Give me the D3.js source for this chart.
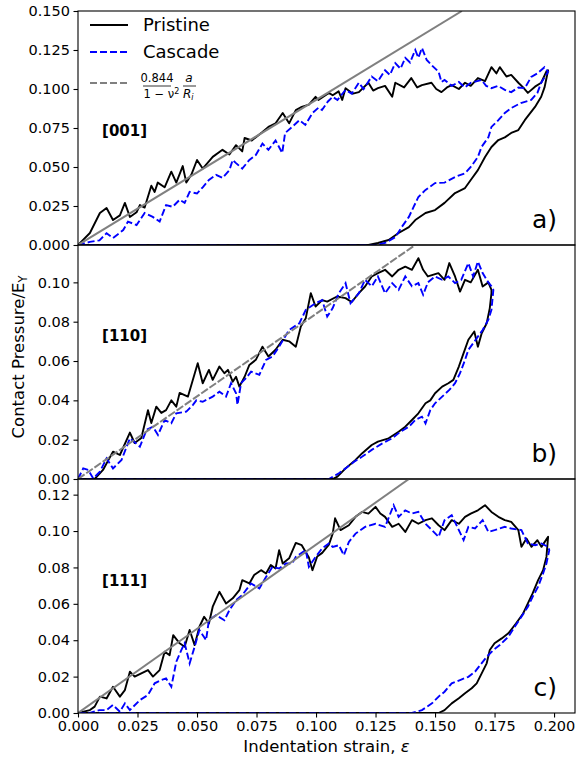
<!DOCTYPE html>
<html lang="en">
<head>
<meta charset="UTF-8">
<title>Contact pressure vs indentation strain</title>
<script src="https://cdn.jsdelivr.net/npm/d3@7/dist/d3.min.js"></script>
<style>
  body { margin: 0; background: #fff; }
  svg text { font-family: "DejaVu Sans", sans-serif; fill: #000; }
</style>
</head>
<body>
<svg id="chart" width="577" height="761"></svg>
<script>
// ---- data: [strain, pressure / E_Y] ----
var xTicks = [0, 0.025, 0.05, 0.075, 0.1, 0.125, 0.15, 0.175, 0.2];
var orientations = ['[001]', '[110]', '[111]'];
var panelTags = ['a)', 'b)', 'c)'];
var yMax = [0.150, 0.119, 0.1286];
var yTicks = [
  [0, 0.025, 0.05, 0.075, 0.1, 0.125, 0.15],
  [0, 0.02, 0.04, 0.06, 0.08, 0.1],
  [0, 0.02, 0.04, 0.06, 0.08, 0.1, 0.12]
];
var yFormat = ['.3f', '.2f', '.2f'];
var fitSlopes = [0.93, 0.84, 0.925];

var pristine001Load = [[0,0],[0.005,0.0077],[0.0092,0.0205],[0.012,0.0237],[0.0147,0.016],[0.0176,0.019],[0.0197,0.027],[0.0218,0.018],[0.0246,0.021],[0.026,0.0256],[0.028,0.024],[0.0308,0.038],[0.0322,0.034],[0.0335,0.040],[0.0364,0.037],[0.0392,0.047],[0.0413,0.040],[0.044,0.0506],[0.0455,0.040],[0.0476,0.045],[0.050,0.0545],[0.0524,0.049],[0.0566,0.0565],[0.0607,0.061],[0.0636,0.058],[0.0664,0.064],[0.069,0.060],[0.070,0.0686],[0.073,0.067],[0.0775,0.0725],[0.080,0.0757],[0.083,0.078],[0.086,0.0846],[0.0887,0.078],[0.0915,0.0865],[0.094,0.0885],[0.097,0.090],[0.0998,0.095],[0.101,0.093],[0.1054,0.0975],[0.107,0.096],[0.1095,0.0985],[0.111,0.093],[0.1124,0.1005],[0.1155,0.097],[0.118,0.098],[0.122,0.104],[0.124,0.099],[0.126,0.1005],[0.129,0.102],[0.132,0.095],[0.1333,0.104],[0.137,0.101],[0.140,0.107],[0.1425,0.101],[0.1445,0.1025],[0.1485,0.104],[0.1505,0.1],[0.1527,0.098],[0.155,0.101],[0.157,0.1025],[0.16,0.1],[0.1626,0.104],[0.165,0.102],[0.168,0.107],[0.171,0.105],[0.1737,0.114],[0.1758,0.110],[0.1772,0.114],[0.18,0.108],[0.182,0.109],[0.185,0.104],[0.187,0.101],[0.189,0.0975],[0.192,0.1015],[0.1946,0.104],[0.1967,0.111],[0.1975,0.112]];
var pristine001Unload = [[0.1975,0.112],[0.196,0.101],[0.1946,0.095],[0.192,0.0885],[0.1877,0.080],[0.185,0.0737],[0.182,0.0718],[0.1793,0.069],[0.1766,0.0673],[0.1737,0.0628],[0.171,0.0564],[0.168,0.048],[0.165,0.0417],[0.1626,0.0365],[0.1584,0.0333],[0.154,0.027],[0.150,0.0224],[0.146,0.0205],[0.1417,0.016],[0.139,0.0115],[0.1347,0.0077],[0.1305,0.0032],[0.126,0.0013],[0.122,0],[0,0]];
var cascade001Load = [[0,0],[0.005,0.002],[0.009,0.003],[0.012,0.0075],[0.0147,0.0045],[0.019,0.0096],[0.021,0.015],[0.0246,0.0128],[0.028,0.0205],[0.0314,0.018],[0.0343,0.015],[0.037,0.0256],[0.0398,0.0245],[0.0427,0.029],[0.0448,0.027],[0.0469,0.034],[0.050,0.033],[0.0524,0.037],[0.055,0.0417],[0.058,0.045],[0.0607,0.043],[0.0636,0.048],[0.065,0.0545],[0.0664,0.0525],[0.069,0.049],[0.072,0.0545],[0.0747,0.0577],[0.0775,0.065],[0.080,0.061],[0.083,0.067],[0.0858,0.059],[0.087,0.0718],[0.090,0.0757],[0.093,0.080],[0.0955,0.077],[0.0985,0.0846],[0.101,0.088],[0.1025,0.0865],[0.105,0.092],[0.107,0.095],[0.109,0.093],[0.1124,0.0994],[0.115,0.097],[0.118,0.104],[0.12,0.1],[0.1234,0.108],[0.126,0.105],[0.129,0.112],[0.131,0.109],[0.1333,0.1166],[0.1355,0.113],[0.1375,0.12],[0.1395,0.117],[0.1417,0.125],[0.143,0.12],[0.1445,0.1263],[0.1465,0.1186],[0.1485,0.1154],[0.1515,0.111],[0.1527,0.1045],[0.154,0.1058],[0.157,0.102],[0.16,0.1045],[0.1625,0.101],[0.165,0.104],[0.1695,0.1058],[0.1715,0.102],[0.1737,0.1005],[0.1765,0.102],[0.1793,0.0994],[0.182,0.098],[0.185,0.101],[0.1877,0.1005],[0.1904,0.1077],[0.193,0.110],[0.196,0.114],[0.1975,0.111]];
var cascade001Unload = [[0.1975,0.111],[0.1946,0.104],[0.193,0.0975],[0.1904,0.093],[0.186,0.091],[0.182,0.0878],[0.1793,0.0846],[0.1766,0.080],[0.1737,0.0757],[0.1724,0.069],[0.1695,0.0628],[0.168,0.0564],[0.165,0.050],[0.1626,0.046],[0.1584,0.0436],[0.154,0.040],[0.150,0.0397],[0.146,0.0353],[0.143,0.0308],[0.141,0.0244],[0.139,0.018],[0.136,0.0115],[0.1333,0.005],[0.129,0.0013],[0.125,0],[0,0]];

var pristine110Load = [[0,0],[0.007,0],[0.0105,0.0046],[0.0147,0.0139],[0.0176,0.0122],[0.0218,0.0236],[0.0238,0.0183],[0.0266,0.0209],[0.0294,0.035],[0.0308,0.0285],[0.0329,0.0368],[0.035,0.0336],[0.037,0.035],[0.0392,0.040],[0.0413,0.0368],[0.0427,0.0438],[0.0462,0.0419],[0.0503,0.0589],[0.0524,0.0487],[0.055,0.0555],[0.0566,0.0504],[0.0594,0.0572],[0.0615,0.0538],[0.063,0.0555],[0.065,0.0495],[0.0664,0.052],[0.0678,0.047],[0.070,0.052],[0.072,0.058],[0.0747,0.0606],[0.0775,0.0673],[0.080,0.0623],[0.083,0.0657],[0.086,0.0708],[0.0887,0.070],[0.0915,0.0673],[0.0936,0.0775],[0.0957,0.0818],[0.0978,0.0945],[0.0998,0.0877],[0.1026,0.091],[0.1047,0.0902],[0.1088,0.0928],[0.1124,0.092],[0.115,0.090],[0.118,0.0945],[0.1206,0.0979],[0.1234,0.103],[0.126,0.1047],[0.129,0.1064],[0.132,0.103],[0.1347,0.1064],[0.1375,0.108],[0.1403,0.1064],[0.143,0.1123],[0.145,0.1064],[0.147,0.103],[0.1514,0.1047],[0.154,0.1013],[0.156,0.1098],[0.1584,0.103],[0.1605,0.0953],[0.1626,0.1013],[0.165,0.100],[0.168,0.1064],[0.170,0.0979],[0.1724,0.100],[0.1737,0.0962]];
var pristine110Unload = [[0.1737,0.0962],[0.1737,0.0945],[0.173,0.0869],[0.1717,0.0792],[0.1696,0.0741],[0.168,0.0673],[0.1665,0.075],[0.164,0.0708],[0.162,0.064],[0.16,0.0572],[0.1577,0.0504],[0.1556,0.0487],[0.153,0.047],[0.150,0.0436],[0.148,0.040],[0.146,0.0385],[0.143,0.0334],[0.1403,0.030],[0.1375,0.0266],[0.1347,0.024],[0.1305,0.0207],[0.126,0.019],[0.1234,0.0173],[0.1193,0.013],[0.1166,0.0097],[0.1124,0.0054],[0.109,0.0012],[0.107,0],[0,0]];
var cascade110Load = [[0,0],[0.0022,0.0054],[0.0043,0.0046],[0.0064,0.0003],[0.0092,0.0037],[0.012,0.0105],[0.0147,0.0054],[0.0183,0.0097],[0.0218,0.0207],[0.026,0.0164],[0.0288,0.025],[0.0315,0.0266],[0.0336,0.0224],[0.0364,0.030],[0.0392,0.0284],[0.0413,0.0334],[0.0455,0.0343],[0.0483,0.0377],[0.0497,0.040],[0.0524,0.0393],[0.0566,0.0419],[0.0594,0.0444],[0.0622,0.0419],[0.0643,0.0487],[0.0664,0.0436],[0.067,0.0377],[0.0685,0.0487],[0.0706,0.0513],[0.0727,0.0546],[0.0762,0.053],[0.079,0.0606],[0.0817,0.0623],[0.0845,0.0673],[0.0887,0.0758],[0.093,0.0792],[0.0957,0.086],[0.0998,0.0894],[0.1026,0.091],[0.1047,0.0826],[0.107,0.0869],[0.1096,0.0945],[0.1124,0.0996],[0.1145,0.0894],[0.118,0.0945],[0.1206,0.1013],[0.1234,0.098],[0.126,0.103],[0.129,0.0945],[0.132,0.0996],[0.1347,0.0962],[0.1375,0.103],[0.1403,0.098],[0.143,0.0996],[0.145,0.0937],[0.147,0.100],[0.150,0.103],[0.153,0.1013],[0.1556,0.103],[0.1584,0.0996],[0.161,0.1013],[0.164,0.1098],[0.166,0.103],[0.168,0.1106],[0.170,0.1047],[0.1724,0.100],[0.1737,0.098]];
var cascade110Unload = [[0.1737,0.098],[0.1745,0.0962],[0.1737,0.086],[0.1724,0.081],[0.170,0.0758],[0.168,0.0724],[0.166,0.069],[0.164,0.0657],[0.1626,0.0606],[0.1605,0.0538],[0.1584,0.0487],[0.156,0.0453],[0.153,0.0419],[0.150,0.0385],[0.148,0.035],[0.146,0.0283],[0.1445,0.0317],[0.1417,0.030],[0.139,0.0266],[0.1354,0.024],[0.132,0.0207],[0.1277,0.018],[0.1234,0.0148],[0.1193,0.0113],[0.116,0.0088],[0.1124,0.0054],[0.1096,0.0029],[0.1054,0],[0,0]];

var pristine111Load = [[0,0],[0.005,0.0016],[0.007,0.0035],[0.0092,0.009],[0.012,0.008],[0.0147,0.0144],[0.0176,0.009],[0.0197,0.0126],[0.0218,0.0227],[0.0238,0.020],[0.0266,0.0218],[0.0294,0.0236],[0.0315,0.020],[0.0343,0.0236],[0.0364,0.0337],[0.0385,0.0318],[0.040,0.0428],[0.0427,0.0383],[0.0448,0.0364],[0.0469,0.0456],[0.049,0.0373],[0.051,0.0474],[0.053,0.0529],[0.055,0.0492],[0.0566,0.0584],[0.0594,0.0666],[0.0622,0.0602],[0.065,0.063],[0.0678,0.0675],[0.069,0.073],[0.072,0.0712],[0.074,0.0758],[0.0769,0.0785],[0.079,0.0767],[0.081,0.0813],[0.083,0.0794],[0.0845,0.0895],[0.086,0.0822],[0.0887,0.085],[0.0915,0.0935],[0.094,0.0922],[0.097,0.0855],[0.0985,0.0785],[0.1005,0.086],[0.1026,0.088],[0.1054,0.0925],[0.107,0.0986],[0.108,0.107],[0.1103,0.1005],[0.1138,0.1032],[0.1166,0.1078],[0.1193,0.1105],[0.122,0.1096],[0.125,0.1133],[0.127,0.1096],[0.129,0.1078],[0.132,0.1023],[0.1347,0.104],[0.1375,0.0995],[0.1403,0.106],[0.143,0.104],[0.146,0.106],[0.1487,0.107],[0.1515,0.1032],[0.154,0.1005],[0.157,0.106],[0.16,0.104],[0.1626,0.1078],[0.165,0.1096],[0.168,0.1114],[0.171,0.1142],[0.1737,0.1105],[0.1766,0.1078],[0.1793,0.106],[0.182,0.105],[0.185,0.1005],[0.1863,0.0913],[0.1884,0.0959],[0.1905,0.0913],[0.193,0.095],[0.1947,0.0913],[0.1975,0.0968]];
var pristine111Unload = [[0.1975,0.0968],[0.1968,0.0858],[0.1954,0.0785],[0.1933,0.073],[0.191,0.0657],[0.189,0.0602],[0.187,0.0547],[0.184,0.0492],[0.1808,0.0438],[0.178,0.041],[0.175,0.0383],[0.173,0.0346],[0.1717,0.0273],[0.1696,0.0218],[0.1675,0.0163],[0.1654,0.0136],[0.1626,0.0108],[0.16,0.0081],[0.157,0.0053],[0.154,0.0016],[0.1515,0],[0,0]];
var cascade111Load = [[0,0],[0.005,0],[0.009,0.0016],[0.012,0.0016],[0.0147,0.0044],[0.0176,0.0007],[0.0197,0.0053],[0.0218,0.0016],[0.026,0.0071],[0.0294,0.0099],[0.0322,0.0163],[0.035,0.0181],[0.037,0.019],[0.0392,0.0144],[0.0413,0.0282],[0.0434,0.0346],[0.0448,0.0383],[0.0469,0.0273],[0.049,0.0364],[0.051,0.0456],[0.0538,0.040],[0.055,0.051],[0.058,0.0538],[0.0615,0.051],[0.0636,0.0565],[0.0664,0.062],[0.069,0.0648],[0.0727,0.0712],[0.0762,0.0685],[0.079,0.0748],[0.0817,0.0803],[0.0845,0.0794],[0.0873,0.0822],[0.09,0.0822],[0.0915,0.0858],[0.0957,0.0895],[0.097,0.0803],[0.0998,0.0858],[0.1026,0.0905],[0.1054,0.0932],[0.107,0.0913],[0.1096,0.0922],[0.1117,0.0867],[0.1138,0.094],[0.1166,0.0986],[0.1206,0.1023],[0.125,0.104],[0.129,0.1023],[0.1326,0.1142],[0.1347,0.1078],[0.1375,0.1114],[0.1403,0.1096],[0.143,0.1105],[0.146,0.104],[0.1487,0.1005],[0.1515,0.0968],[0.154,0.106],[0.157,0.1087],[0.16,0.1005],[0.162,0.095],[0.164,0.1023],[0.1668,0.1014],[0.170,0.106],[0.1724,0.0995],[0.175,0.1005],[0.1793,0.1023],[0.182,0.1014],[0.1863,0.1005],[0.189,0.0932],[0.192,0.0922],[0.1947,0.0932],[0.1975,0.0913]];
var cascade111Unload = [[0.1975,0.0913],[0.198,0.0895],[0.1968,0.0822],[0.1954,0.0767],[0.1933,0.0694],[0.191,0.0639],[0.189,0.0584],[0.1863,0.0529],[0.1835,0.0474],[0.1808,0.0419],[0.1772,0.0373],[0.1745,0.0346],[0.1717,0.0309],[0.169,0.0264],[0.1668,0.0227],[0.164,0.0199],[0.1605,0.0181],[0.157,0.0163],[0.154,0.0117],[0.1515,0.009],[0.1487,0.0053],[0.1445,0.0016],[0.1403,0],[0,0]];

var pristine = [pristine001Load.concat(pristine001Unload), pristine110Load.concat(pristine110Unload), pristine111Load.concat(pristine111Unload)];
var cascade = [cascade001Load.concat(cascade001Unload), cascade110Load.concat(cascade110Unload), cascade111Load.concat(cascade111Unload)];

// ---- layout ----
var left = 78, right = 575, firstTop = 11, ph = 234;
var svg = d3.select('#chart');

var x = d3.scaleLinear().domain([0, 0.2088]).range([left, right]);

function drawPanel(i) {
  var pTop = firstTop + i * ph;
  var y = d3.scaleLinear().domain([0, yMax[i]]).range([pTop + ph, pTop]);
  var g = svg.append('g');

  g.append('clipPath').attr('id', 'clip' + i)
    .append('rect').attr('x', left).attr('y', pTop).attr('width', right - left).attr('height', ph);

  var line = d3.line().x(d => x(d[0])).y(d => y(d[1]));
  var plot = g.append('g').attr('clip-path', 'url(#clip' + i + ')');

  plot.append('path').datum(pristine[i])
    .attr('d', line).attr('fill', 'none')
    .attr('stroke', '#000').attr('stroke-width', 1.9).attr('stroke-linejoin', 'round');

  plot.append('path').datum(cascade[i])
    .attr('d', line).attr('fill', 'none')
    .attr('stroke', '#0000ff').attr('stroke-width', 1.9)
    .attr('stroke-dasharray', '7,3');

  // linear fit through the origin
  var fit = [[0, 0], [yMax[i] / fitSlopes[i], yMax[i]]];
  plot.append('path').datum(fit)
    .attr('d', line).attr('fill', 'none')
    .attr('stroke', '#808080').attr('stroke-width', 2)
    .attr('stroke-dasharray', i === 1 ? '8,2' : null);

  // y axis
  var yAxis = d3.axisLeft(y).tickValues(yTicks[i]).tickFormat(d3.format(yFormat[i]))
    .tickSizeOuter(0).tickSize(4.5).tickPadding(3.5);
  var ya = g.append('g').attr('transform', 'translate(' + left + ',0)').call(yAxis);
  ya.select('.domain').remove();
  ya.selectAll('line').attr('stroke', '#000').attr('stroke-width', 1.1);
  ya.selectAll('text').style('font-size', '14.5px').style('font-family', '"DejaVu Sans", sans-serif');

  if (i === 2) {
    var xAxis = d3.axisBottom(x).tickValues(xTicks).tickFormat(d3.format('.3f'))
      .tickSizeOuter(0).tickSize(4.5).tickPadding(3.5);
    var xa = g.append('g').attr('transform', 'translate(0,' + (pTop + ph) + ')').call(xAxis);
    xa.select('.domain').remove();
    xa.selectAll('line').attr('stroke', '#000').attr('stroke-width', 1.1);
    xa.selectAll('text').style('font-size', '14.5px').style('font-family', '"DejaVu Sans", sans-serif');
  }

  // frame
  g.append('rect').attr('x', left).attr('y', pTop).attr('width', right - left).attr('height', ph)
    .attr('fill', 'none').attr('stroke', '#000').attr('stroke-width', 1.1);

  g.append('text').attr('x', x(0.0101)).attr('y', y(0.07))
    .style('font-size', '15px').style('font-weight', 'bold').text(orientations[i]);

  g.append('text').attr('x', 557).attr('y', pTop + ph - 17).attr('text-anchor', 'end')
    .style('font-size', '25px').text(panelTags[i]);
}

for (var k = 0; k < 3; k++) drawPanel(k);

// legend
var lg = svg.append('g');
lg.append('line').attr('x1', 90).attr('x2', 128).attr('y1', 25).attr('y2', 25)
  .attr('stroke', '#000').attr('stroke-width', 1.9);
lg.append('text').attr('x', 143).attr('y', 31).style('font-size', '18px').text('Pristine');
lg.append('line').attr('x1', 90).attr('x2', 128).attr('y1', 52).attr('y2', 52)
  .attr('stroke', '#0000ff').attr('stroke-width', 1.9).attr('stroke-dasharray', '7,3');
lg.append('text').attr('x', 143).attr('y', 58).style('font-size', '18px').text('Cascade');
lg.append('line').attr('x1', 90).attr('x2', 128).attr('y1', 83).attr('y2', 83)
  .attr('stroke', '#808080').attr('stroke-width', 1.9).attr('stroke-dasharray', '7,3');
// fraction 0.844/(1-v^2) * a/R_i
lg.append('text').attr('x', 157).attr('y', 82).attr('text-anchor', 'middle').style('font-size', '11.5px').text('0.844');
lg.append('line').attr('x1', 143).attr('x2', 171).attr('y1', 86).attr('y2', 86).attr('stroke', '#000').attr('stroke-width', 0.8);
lg.append('text').attr('x', 161.5).attr('y', 98).attr('text-anchor', 'middle').style('font-size', '11.5px')
  .html('1 − ν<tspan dy="-4" style="font-size:8px">2</tspan>');
lg.append('text').attr('x', 189).attr('y', 82).attr('text-anchor', 'middle').style('font-size', '12px').style('font-style', 'italic').text('a');
lg.append('line').attr('x1', 183).attr('x2', 196).attr('y1', 86).attr('y2', 86).attr('stroke', '#000').attr('stroke-width', 0.8);
lg.append('text').attr('x', 183).attr('y', 98).style('font-size', '12px').style('font-style', 'italic')
  .html('R<tspan dy="2" style="font-size:8px">i</tspan>');

// axis labels
svg.append('text').attr('x', (left + right) / 2).attr('y', 752).attr('text-anchor', 'middle')
  .style('font-size', '16.5px').html('Indentation strain, <tspan font-style="italic">ε</tspan>');
svg.append('text').attr('transform', 'translate(24,357) rotate(-90)').attr('text-anchor', 'middle')
  .style('font-size', '16.5px').html('Contact Pressure/E<tspan dy="3" style="font-size:11.5px">Y</tspan>');
</script>
</body>
</html>
